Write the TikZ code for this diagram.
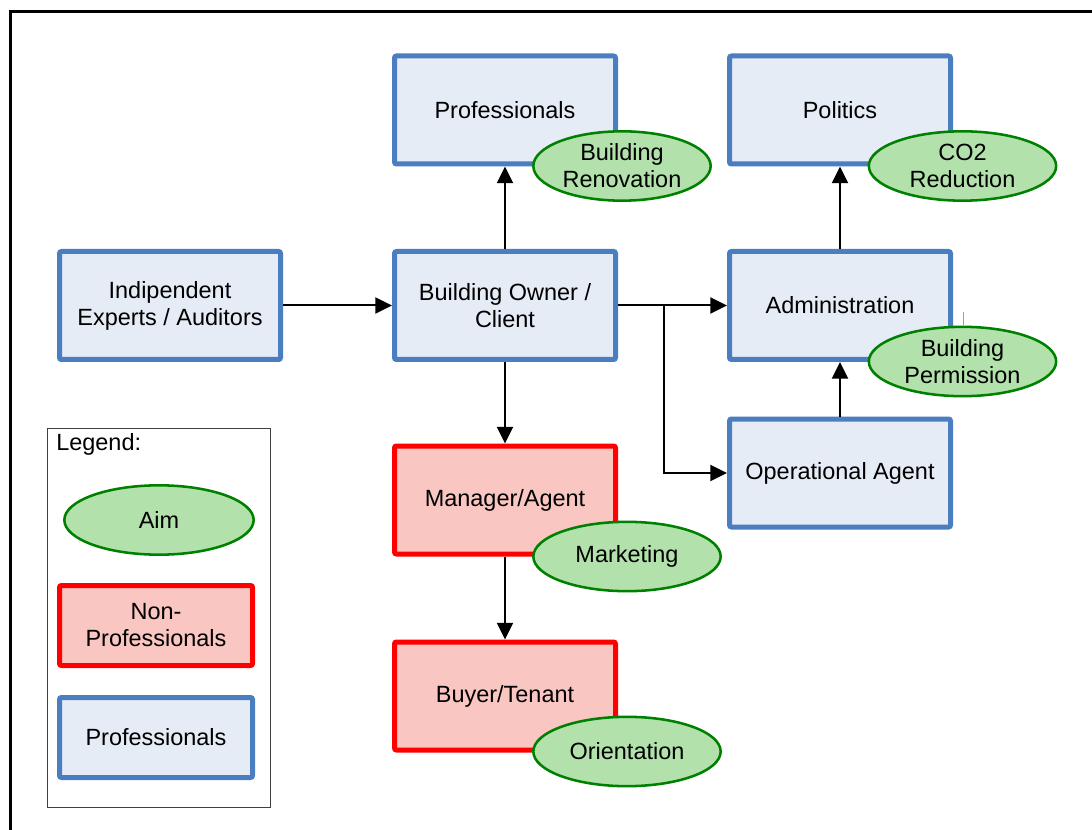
\documentclass[tikz,border=0pt]{standalone}
\usepackage{fontspec}
\setmainfont{Liberation Sans}
\usetikzlibrary{shapes.geometric,arrows.meta}
\definecolor{proBorder}{RGB}{74,126,192}
\definecolor{proFill}{RGB}{230,236,246}
\definecolor{nonBorder}{RGB}{255,0,0}
\definecolor{nonFill}{RGB}{249,198,194}
\definecolor{aimBorder}{RGB}{0,128,0}
\definecolor{aimFill}{RGB}{178,225,172}
\tikzset{
  lbl/.style={font=\fontsize{17.6}{20.3}\selectfont, align=center, text=black},
  probox/.style={lbl, draw=proBorder, fill=proFill, line width=3.75pt,
    rounded corners=1.5pt, minimum width=165.75pt, minimum height=81pt, inner sep=0pt},
  nonbox/.style={lbl, draw=nonBorder, fill=nonFill, line width=3.75pt,
    rounded corners=1.5pt, minimum width=165.75pt, minimum height=81pt, inner sep=0pt},
  aim/.style={lbl, ellipse, draw=aimBorder, fill=aimFill, line width=1.9pt,
    minimum width=133pt, minimum height=52pt, inner sep=0pt},
  wideaim/.style={aim, minimum width=140.5pt},
  flow/.style={line width=1.5pt, -{Triangle[length=12.5pt,width=12pt]}},
}
\begin{document}
\begin{tikzpicture}[x=0.75pt, y=-0.75pt]
\useasboundingbox (0,0) rectangle (1092,830);
% outer frame, running off the right and bottom edges
\draw[line width=2.25pt] (10,12) rectangle (1110,850);

% professionals
\node[probox] (prof) at (505,110) {Professionals};
\node[probox] (pol) at (840,110) {Politics};
\node[probox] (exp) at (170,305.5) {Indipendent\\Experts / Auditors};
\node[probox] (own) at (505,305.5) {Building Owner /\\Client};
\node[probox] (adm) at (840,305.5) {Administration};
\node[probox] (op) at (840,473) {Operational Agent};

% non-professionals
\node[nonbox] (man) at (505,500) {Manager/Agent};
\node[nonbox] (buy) at (505,696) {Buyer/Tenant};

% aims
\node[aim] (ren) at (622,166) {Building\\Renovation};
\node[wideaim] (co2) at (962.5,166) {CO2\\Reduction};
\node[wideaim] (perm) at (962.5,361.5) {Building\\Permission};
\node[wideaim] (mkt) at (627,556.5) {Marketing};
\node[wideaim] (ori) at (627,751.5) {Orientation};

% small tick right of the administration box
\draw[proBorder!70, line width=0.6pt] (963,312) -- (963,325);

% connectors
\draw[flow] (exp.east) -- (own.west);
\draw[flow] (own.north) -- (prof.south);
\draw[flow] (own.east) -- (adm.west);
\coordinate (split) at (664,305.5);
\draw[flow] (split) |- (op.west);
\draw[flow] (op.north) -- (adm.south);
\draw[flow] (adm.north) -- (pol.south);
\draw[flow] (own.south) -- (man.north);
\draw[flow] (man.south) -- (buy.north);

% legend
\draw[black!75, line width=0.75pt] (47,428) rectangle (270,807);
\node[lbl, anchor=west, inner sep=0pt] (legt) at (56,444) {Legend:};
\node[aim, minimum width=142pt] (laim) at (159,520) {Aim};
\node[nonbox, minimum width=144.75pt, minimum height=60pt] (lnon) at (156,625.5) {Non-\\Professionals};
\node[probox, minimum width=144.75pt, minimum height=60pt] (lpro) at (156,737.5) {Professionals};
\end{tikzpicture}
\end{document}
